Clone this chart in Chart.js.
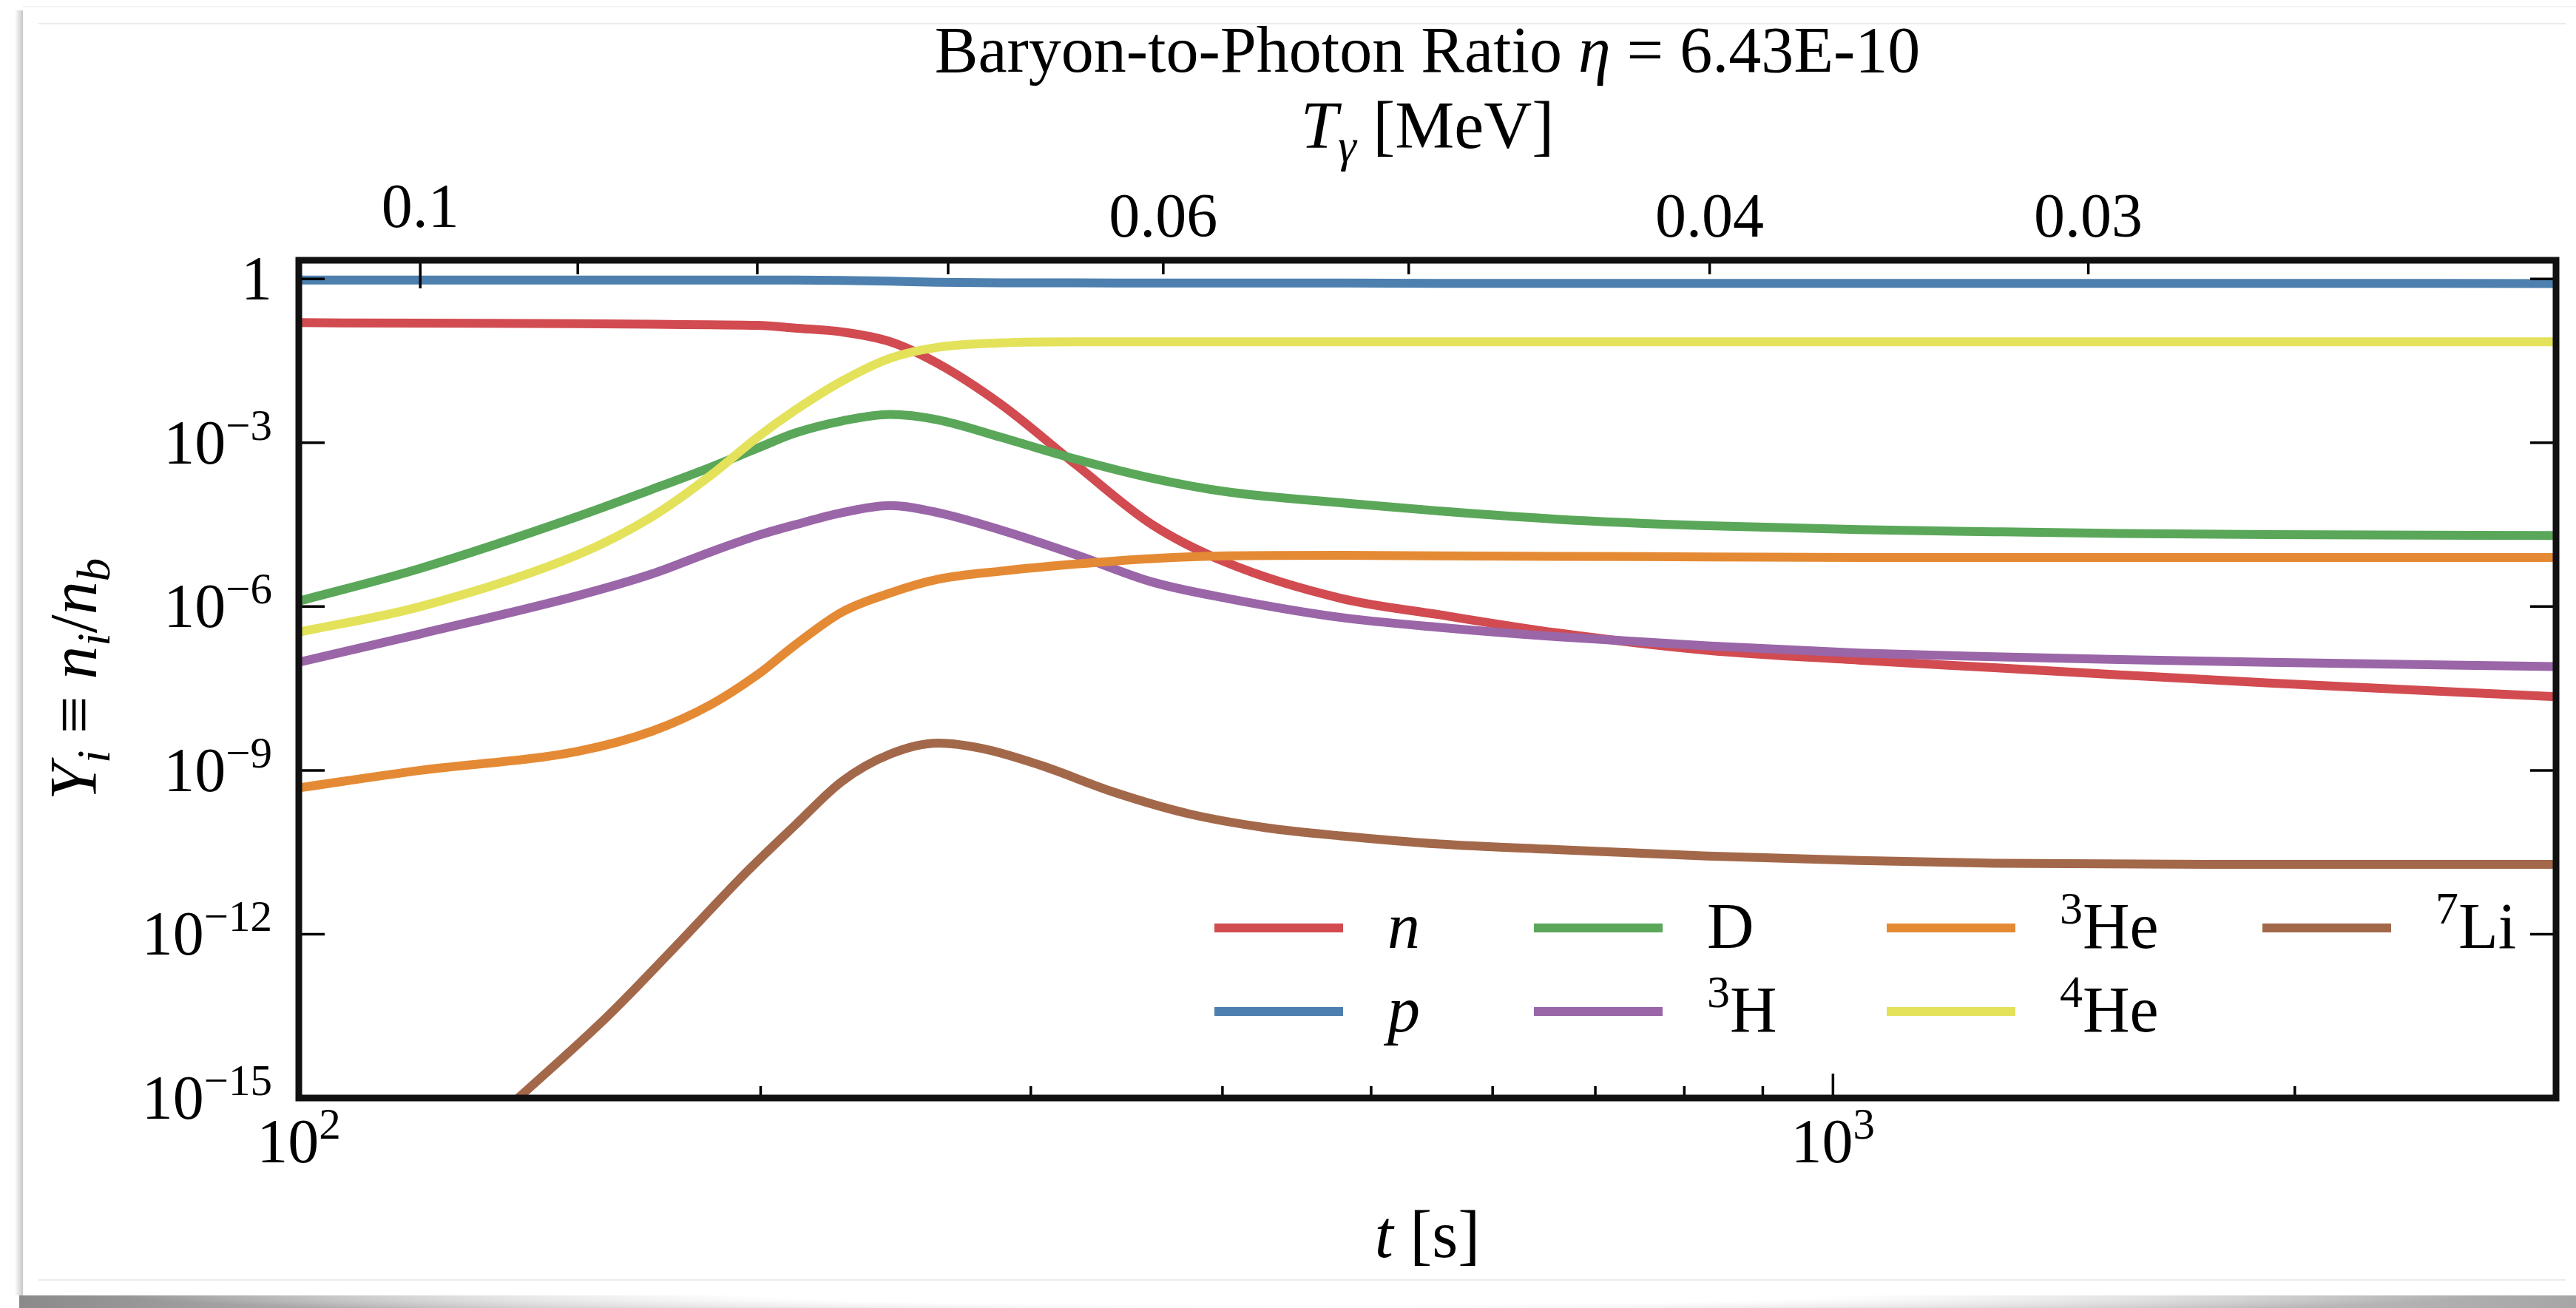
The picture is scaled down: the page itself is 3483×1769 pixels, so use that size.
<!DOCTYPE html>
<html>
<head>
<meta charset="utf-8">
<title>BBN abundances</title>
<script src="https://cdn.jsdelivr.net/npm/chart.js@4.4.1/dist/chart.umd.min.js"></script>
<style>
  html, body { margin: 0; padding: 0; background: #fff; }
  body { position: relative; width: 3483px; height: 1769px; overflow: hidden; }
  .edge-left { position: absolute; left: 20px; top: 14px; width: 11px; height: 1738px;
    background: linear-gradient(to right, rgba(0,0,0,0), rgba(0,0,0,0.22)); }
  .edge-top { position: absolute; left: 31px; right: 0; top: 8px; height: 2px; background: #f3f3f3; }
  .rule { position: absolute; left: 52px; right: 14px; height: 2px; background: #ebebeb; }
  .rule.top { top: 31px; }
  .rule.bottom { top: 1730px; }
  .edge-bottom { position: absolute; left: 26px; right: 0; top: 1752px; height: 17px;
    background:
      radial-gradient(ellipse 46% 170% at 50% 0%, #fff 45%, rgba(255,255,255,0) 100%),
      linear-gradient(to right, #8a8a8a, #c4c4c4 20%, #f2f2f2 50%, #cacaca 80%, #a6a6a6); }
  canvas { position: absolute; left: 0; top: 0; }
</style>
</head>
<body>
<div class="edge-left"></div>
<div class="edge-top"></div>
<div class="rule top"></div>
<div class="rule bottom"></div>
<div class="edge-bottom"></div>
<canvas id="bbn" width="3483" height="1769"></canvas>

<script>
// time grid [s] shared by n, p, D, 3H, 3He, 4He
const timeS = [100, 120, 152, 170, 185.5, 199, 210.7, 226, 243, 261, 287, 321, 360, 403, 478, 554, 660, 828, 1039, 1274, 1536, 1926, 2960];

// log10 of Y_i = n_i / n_b
const logN   = [-0.80, -0.81, -0.82, -0.83, -0.84, -0.85, -0.90, -0.97, -1.15, -1.55, -2.30, -3.40, -4.50, -5.20, -5.85, -6.15, -6.48, -6.80, -6.98, -7.12, -7.25, -7.40, -7.65];
const logP   = [-0.02, -0.02, -0.02, -0.02, -0.02, -0.02, -0.02, -0.025, -0.04, -0.06, -0.07, -0.07, -0.075, -0.075, -0.075, -0.08, -0.08, -0.08, -0.08, -0.08, -0.08, -0.08, -0.085];
const logD   = [-5.90, -5.30, -4.35, -3.85, -3.45, -3.10, -2.82, -2.60, -2.48, -2.58, -2.90, -3.30, -3.65, -3.90, -4.10, -4.25, -4.40, -4.52, -4.59, -4.63, -4.66, -4.68, -4.70];
const logH3  = [-7.02, -6.50, -5.80, -5.40, -5.00, -4.70, -4.50, -4.28, -4.15, -4.28, -4.60, -5.05, -5.55, -5.85, -6.20, -6.38, -6.55, -6.72, -6.85, -6.92, -6.97, -7.02, -7.10];
const logHe3 = [-9.32, -9.00, -8.65, -8.28, -7.80, -7.25, -6.70, -6.10, -5.75, -5.50, -5.35, -5.22, -5.12, -5.07, -5.06, -5.07, -5.08, -5.09, -5.10, -5.10, -5.10, -5.10, -5.10];
const logHe4 = [-6.47, -6.00, -5.05, -4.35, -3.60, -2.90, -2.40, -1.87, -1.45, -1.25, -1.17, -1.15, -1.15, -1.15, -1.15, -1.15, -1.15, -1.15, -1.15, -1.15, -1.15, -1.15, -1.15];

// 7Li has its own grid, it climbs in from below 1e-15
const timeLi = [120, 139, 159, 175, 196, 210.7, 226, 243, 261, 279, 304, 340, 381, 427, 478, 554, 660, 828, 1039, 1274, 1926, 2960];
const logLi7 = [-16.6, -15.0, -13.5, -12.3, -10.85, -10.0, -9.20, -8.70, -8.50, -8.60, -8.90, -9.40, -9.80, -10.05, -10.20, -10.35, -10.45, -10.57, -10.65, -10.70, -10.72, -10.72];

// top axis: photon temperature [MeV] and the time where each tick sits
const tempTicks    = [0.1, 0.09, 0.08, 0.07, 0.06, 0.05, 0.04, 0.03];
const tempTickTime = [120, 152, 199, 265, 366, 529, 831, 1467];
const tempTickText = ['0.1', '', '', '', '0.06', '', '0.04', '0.03'];

// bottom / left axis ticks
const timeTicks = [100, 200, 300, 400, 500, 600, 700, 800, 900, 1000, 2000];
const timeMajor = [100, 1000];
const yTicks    = [1e-15, 1e-12, 1e-9, 1e-6, 1e-3, 1];

const T_MIN = 100, T_MAX = 2960, Y_MIN = 1e-15, Y_MAX = 2.2;

const SERIF = '"Liberation Serif", "DejaVu Serif", serif';

// species in legend order (column-major: n p | D 3H | 3He 4He | 7Li)
const species = [
  { key: 'n',   t: timeS,  v: logN,   color: '#d14b50', label: [{ t: 'n', it: true }] },
  { key: 'p',   t: timeS,  v: logP,   color: '#4d80ae', label: [{ t: 'p', it: true }] },
  { key: 'D',   t: timeS,  v: logD,   color: '#5aa75a', label: [{ t: 'D' }] },
  { key: 'H3',  t: timeS,  v: logH3,  color: '#9a66a8', label: [{ t: '3', sup: true }, { t: 'H' }] },
  { key: 'He3', t: timeS,  v: logHe3, color: '#e58a34', label: [{ t: '3', sup: true }, { t: 'He' }] },
  { key: 'He4', t: timeS,  v: logHe4, color: '#e3e25a', label: [{ t: '4', sup: true }, { t: 'He' }] },
  { key: 'Li7', t: timeLi, v: logLi7, color: '#a3684a', label: [{ t: '7', sup: true }, { t: 'Li' }] }
];

function toPoints(t, v) {
  return t.map((x, i) => ({ x: x, y: Math.pow(10, v[i]) }));
}

const datasets = species.map((s, i) => ({
  label: s.key,
  data: toPoints(s.t, s.v),
  borderColor: s.color,
  backgroundColor: s.color,
  borderWidth: 12,
  pointRadius: 0,
  fill: false,
  cubicInterpolationMode: 'monotone',
  order: -i   // later species drawn on top
}));

// ---- text helpers (mixed italic / super- / subscripts) ----
function fontOf(px, italic) {
  return (italic ? 'italic ' : '') + Math.round(px) + 'px ' + SERIF;
}

function drawRich(ctx, parts, x, y, size, align) {
  const runs = parts.map(p => {
    const small = p.sup || p.sub;
    const font = fontOf(small ? size * 0.7 : size, p.it);
    ctx.font = font;
    return {
      text: p.t, font: font,
      w: ctx.measureText(p.t).width,
      dy: p.sup ? -0.38 * size : (p.sub ? 0.2 * size : 0)
    };
  });
  const total = runs.reduce((s, r) => s + r.w, 0);
  let cx = align === 'center' ? x - total / 2 : (align === 'right' ? x - total : x);
  ctx.textAlign = 'left';
  ctx.textBaseline = 'alphabetic';
  runs.forEach(r => {
    ctx.font = r.font;
    ctx.fillText(r.text, cx, y + r.dy);
    cx += r.w;
  });
}

function powerLabel(v) {
  const e = Math.round(Math.log10(v));
  if (e === 0) return [{ t: '1' }];
  return [{ t: '10' }, { t: (e < 0 ? '\u2212' : '') + Math.abs(e), sup: true }];
}

// frame, inward ticks, tick labels, axis titles and legend
const frameAndLabels = {
  id: 'frameAndLabels',
  afterDatasetsDraw(chart) {
    const { ctx, chartArea: a, scales } = chart;
    const cx = (a.left + a.right) / 2;
    ctx.save();
    ctx.fillStyle = '#000';
    ctx.strokeStyle = '#000';
    ctx.lineWidth = 3.5;
    const seg = (x1, y1, x2, y2) => {
      ctx.beginPath(); ctx.moveTo(x1, y1); ctx.lineTo(x2, y2); ctx.stroke();
    };

    // bottom axis: t [s]
    scales.x.ticks.forEach(tk => {
      const x = scales.x.getPixelForValue(tk.value);
      seg(x, a.bottom, x, a.bottom - (tk.major ? 33 : 16));
      if (tk.major) drawRich(ctx, powerLabel(tk.value), x, a.bottom + 87, 84, 'center');
    });

    // top axis: T_gamma [MeV]
    scales.xT.ticks.forEach((tk, i) => {
      const x = scales.xT.getPixelForValue(tk.value);
      seg(x, a.top, x, a.top + (tk.major ? 38 : 19));
      const text = tempTickText[i];
      if (text) drawRich(ctx, [{ t: text }], x, a.top - (tk.major ? 45 : 32), 84, 'center');
    });

    // left / right axis: Y_i
    scales.y.ticks.forEach(tk => {
      const y = scales.y.getPixelForValue(tk.value);
      seg(a.left, y, a.left + 35, y);
      seg(a.right, y, a.right - 35, y);
      drawRich(ctx, powerLabel(tk.value), a.left - 36, y + 0.33 * 84, 84, 'right');
    });

    // frame
    ctx.lineWidth = 9;
    ctx.strokeStyle = '#111';
    ctx.strokeRect(a.left, a.top, a.right - a.left, a.bottom - a.top);

    // titles
    drawRich(ctx, [{ t: 'Baryon-to-Photon Ratio ' }, { t: '\u03b7', it: true }, { t: ' = 6.43E-10' }],
      cx, a.top - 255, 88, 'center');
    drawRich(ctx, [{ t: 'T', it: true }, { t: '\u03b3', it: true, sub: true }, { t: ' [MeV]' }],
      cx, a.top - 152, 90, 'center');
    drawRich(ctx, [{ t: 't', it: true }, { t: ' [s]' }], cx, a.bottom + 215, 90, 'center');

    ctx.save();
    ctx.translate(a.left - 274, (a.top + a.bottom) / 2);
    ctx.rotate(-Math.PI / 2);
    drawRich(ctx, [
      { t: 'Y', it: true }, { t: 'i', it: true, sub: true }, { t: ' \u2261 ' },
      { t: 'n', it: true }, { t: 'i', it: true, sub: true }, { t: '/' },
      { t: 'n', it: true }, { t: 'b', it: true, sub: true }
    ], 0, 0, 90, 'center');
    ctx.restore();

    // legend: 4 columns, 2 rows, filled column by column
    const colX = [a.right - 1814, a.right - 1382, a.right - 905, a.right - 397];
    const rowY = [a.bottom - 230, a.bottom - 117];
    ctx.lineWidth = 12;
    ctx.lineCap = 'butt';
    species.forEach((s, i) => {
      const col = Math.floor(i / 2), row = i % 2;
      const x = colX[col], y = rowY[row];
      ctx.strokeStyle = s.color;
      seg(x, y, x + 174, y);
      drawRich(ctx, s.label, x + 234, y + 27, 88, 'left');
    });
    ctx.restore();
  }
};

new Chart(document.getElementById('bbn'), {
  type: 'line',
  data: { datasets: datasets },
  options: {
    responsive: false,
    animation: false,
    events: [],
    layout: { padding: { left: 404, top: 352, right: 27, bottom: 284 } },
    plugins: {
      legend: { display: false },
      title: { display: false },
      tooltip: { enabled: false }
    },
    scales: {
      x: {
        type: 'logarithmic', min: T_MIN, max: T_MAX, display: false,
        afterBuildTicks: s => {
          s.ticks = timeTicks.map(v => ({ value: v, major: timeMajor.includes(v) }));
        }
      },
      xT: {
        type: 'logarithmic', position: 'top', min: T_MIN, max: T_MAX, display: false,
        afterBuildTicks: s => {
          s.ticks = tempTickTime.map((v, i) => ({
            value: v,
            major: Math.abs(Math.log10(tempTicks[i]) - Math.round(Math.log10(tempTicks[i]))) < 1e-9
          }));
        }
      },
      y: {
        type: 'logarithmic', min: Y_MIN, max: Y_MAX, display: false,
        afterBuildTicks: s => {
          s.ticks = yTicks.map(v => ({ value: v, major: true }));
        }
      }
    }
  },
  plugins: [frameAndLabels]
});
</script>
</body>
</html>
